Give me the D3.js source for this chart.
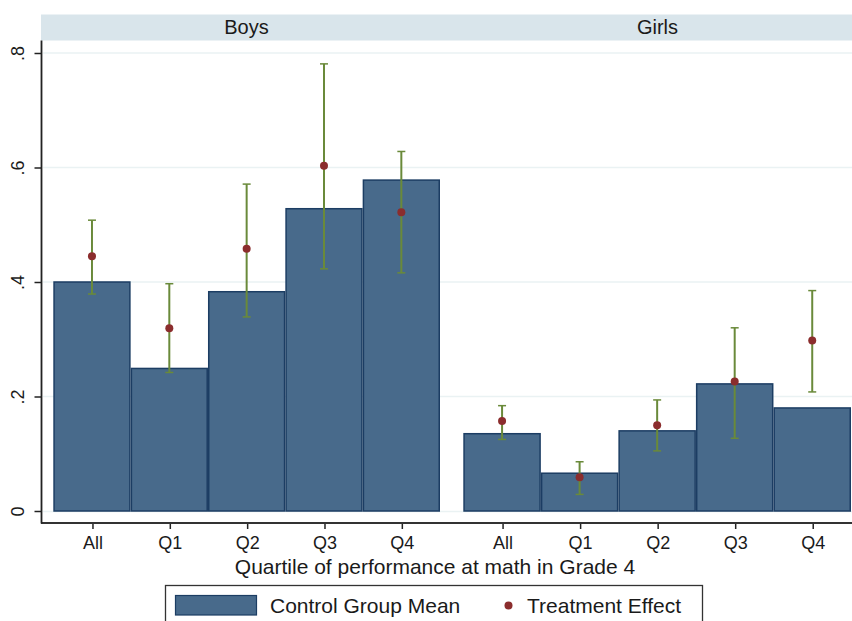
<!DOCTYPE html>
<html><head><meta charset="utf-8">
<script src="https://cdn.jsdelivr.net/npm/d3@7"></script>
<style>body{margin:0;background:#fff}svg{display:block}</style>
</head><body>
<svg id="c" width="852" height="621"></svg>
<script>
const panels = ["Boys", "Girls"];
const categories = ["All", "Q1", "Q2", "Q3", "Q4"];
const controlBoys = [0.400, 0.249, 0.383, 0.528, 0.578];
const controlGirls = [0.135, 0.066, 0.140, 0.222, 0.180];
const teBoys = [0.445, 0.319, 0.458, 0.603, 0.522];
const teBoysLo = [0.379, 0.242, 0.339, 0.423, 0.416];
const teBoysHi = [0.508, 0.397, 0.571, 0.781, 0.628];
const teGirls = [0.157, 0.059, 0.150, 0.226, 0.298];
const teGirlsLo = [0.125, 0.029, 0.105, 0.127, 0.208];
const teGirlsHi = [0.184, 0.086, 0.194, 0.320, 0.385];
const yTicks = [0, 0.2, 0.4, 0.6, 0.8];
const yTickLabels = ["0", ".2", ".4", ".6", ".8"];
const xTitle = "Quartile of performance at math in Grade 4";
const legendLabels = ["Control Group Mean", "Treatment Effect"];

const data = [
  {name: panels[0], control: controlBoys, te: teBoys, lo: teBoysLo, hi: teBoysHi},
  {name: panels[1], control: controlGirls, te: teGirls, lo: teGirlsLo, hi: teGirlsHi}
];

const FONT = "'Liberation Sans', Arial, sans-serif";
const barFill = "#486a8b", barStroke = "#1c3d63";
const ciColor = "#6a8a3a", dotColor = "#8b2d2d";
const svg = d3.select("#c");
const y = d3.scaleLinear().domain([0, 0.8]).range([511, 53]);
const panelRanges = [[53.3, 440], [463.3, 851]];
const stripRanges = [[41, 452], [452, 852]];

// gridlines
svg.append("g").selectAll("line").data(yTicks.slice(1)).join("line")
  .attr("x1", 43).attr("x2", 852)
  .attr("y1", d => y(d)).attr("y2", d => y(d))
  .attr("stroke", "#eaf2f3").attr("stroke-width", 1.5);
// bottom gridline at 0
svg.append("line").attr("x1", 43).attr("x2", 852).attr("y1", y(0)+0.5).attr("y2", y(0)+0.5)
  .attr("stroke", "#eaf2f3").attr("stroke-width", 1.5);

// strips
data.forEach((p, i) => {
  const [a, b] = stripRanges[i];
  svg.append("rect").attr("x", a).attr("y", 14.5).attr("width", b - a).attr("height", 26)
    .attr("fill", "#d9e5eb");
  svg.append("text").attr("x", i === 0 ? 246.5 : 657.5).attr("y", 34)
    .attr("text-anchor", "middle").attr("font-family", FONT).attr("font-size", 20)
    .attr("fill", "#1a1a1a").text(p.name);
});

data.forEach((p, i) => {
  const x = d3.scaleBand().domain(categories).range(panelRanges[i]).paddingInner(0).paddingOuter(0);
  const g = svg.append("g");
  g.selectAll("rect.bar").data(categories).join("rect")
    .attr("x", d => x(d) + 0.75).attr("width", x.bandwidth() - 1.5)
    .attr("y", (d, k) => y(p.control[k])).attr("height", (d, k) => y(0) - y(p.control[k]))
    .attr("fill", barFill).attr("stroke", barStroke).attr("stroke-width", 1.5);
  const cx = d => x(d) + x.bandwidth() / 2;
  g.selectAll("line.ci").data(categories).join("line")
    .attr("x1", cx).attr("x2", cx)
    .attr("y1", (d, k) => y(p.lo[k])).attr("y2", (d, k) => y(p.hi[k]))
    .attr("stroke", ciColor).attr("stroke-width", 2);
  ["lo", "hi"].forEach(key => {
    g.selectAll("line.cap" + key).data(categories).join("line")
      .attr("x1", d => cx(d) - 4).attr("x2", d => cx(d) + 4)
      .attr("y1", (d, k) => y(p[key][k])).attr("y2", (d, k) => y(p[key][k]))
      .attr("stroke", ciColor).attr("stroke-width", 1.5);
  });
  g.selectAll("circle").data(categories).join("circle")
    .attr("cx", cx).attr("cy", (d, k) => y(p.te[k])).attr("r", 4)
    .attr("fill", dotColor);
  // x axis ticks + labels
  const ax = svg.append("g").attr("transform", "translate(0,523)")
    .call(d3.axisBottom(x).tickSize(6).tickSizeOuter(0).tickPadding(6));
  ax.select(".domain").remove();
  ax.selectAll(".tick line").attr("stroke", "#222").attr("stroke-width", 1.5)
    .attr("transform", "translate(1,0)");
  ax.selectAll(".tick text").attr("font-family", FONT).attr("font-size", 18)
    .attr("fill", "#1a1a1a").attr("dy", "0.78em").attr("dx", 1);
});

// x axis line
svg.append("line").attr("x1", 41).attr("x2", 852).attr("y1", 523).attr("y2", 523)
  .attr("stroke", "#333").attr("stroke-width", 1.8);

// y axis
const yAxis = svg.append("g").attr("transform", "translate(41.5,0)")
  .call(d3.axisLeft(y).tickValues(yTicks).tickFormat((d, k) => yTickLabels[k]).tickSize(7).tickSizeOuter(0));
yAxis.select(".domain").remove();
yAxis.selectAll(".tick line").attr("stroke", "#222").attr("stroke-width", 1.5);
yAxis.selectAll(".tick text").attr("font-family", FONT).attr("font-size", 18).attr("fill", "#1a1a1a")
  .attr("x", null).attr("dy", null)
  .attr("transform", "translate(-18,0) rotate(-90)")
  .attr("text-anchor", "middle").attr("y", 0);
svg.append("line").attr("x1", 41.5).attr("x2", 41.5).attr("y1", 40.5).attr("y2", 523.5)
  .attr("stroke", "#222").attr("stroke-width", 1.8);

// x title
svg.append("text").attr("x", 435).attr("y", 574).attr("text-anchor", "middle")
  .attr("font-family", FONT).attr("font-size", 21).attr("fill", "#1a1a1a").text(xTitle);

// legend
svg.append("rect").attr("x", 165.5).attr("y", 585.5).attr("width", 537).attr("height", 50)
  .attr("fill", "#fff").attr("stroke", "#333").attr("stroke-width", 1.3);
svg.append("rect").attr("x", 175.5).attr("y", 595.5).attr("width", 81).attr("height", 19.5)
  .attr("fill", barFill).attr("stroke", barStroke).attr("stroke-width", 1.2);
svg.append("text").attr("x", 270).attr("y", 613).attr("font-family", FONT).attr("font-size", 21)
  .attr("fill", "#1a1a1a").text(legendLabels[0]);
svg.append("circle").attr("cx", 508.5).attr("cy", 605.5).attr("r", 4).attr("fill", dotColor);
svg.append("text").attr("x", 527).attr("y", 613).attr("font-family", FONT).attr("font-size", 21)
  .attr("fill", "#1a1a1a").text(legendLabels[1]);
</script>
</body></html>
